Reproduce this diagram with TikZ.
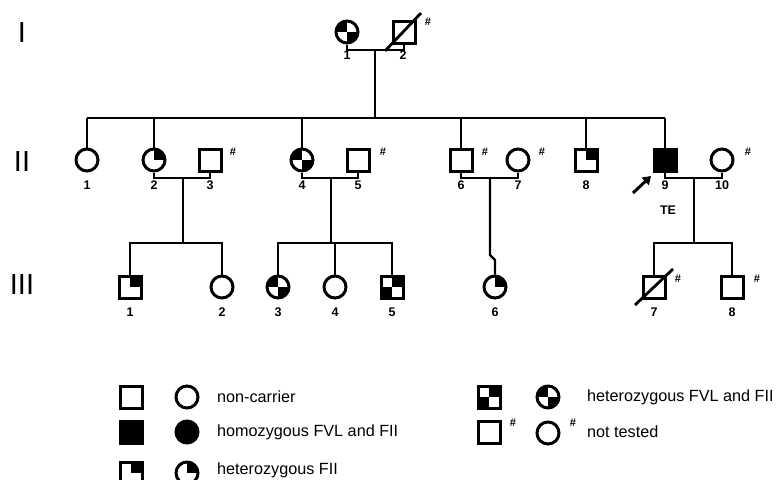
\documentclass[tikz,border=0pt]{standalone}
\usepackage{fontspec}
\setmainfont{Liberation Sans}
\usetikzlibrary{arrows.meta}
\begin{document}
\begin{tikzpicture}[x=1pt,y=-1pt,
 sym/.style={draw, line width=3pt, minimum size=22pt, inner sep=0pt},
 male/.style={sym, rectangle},
 female/.style={sym, circle},
 hetII/.style={path picture={\fill (path picture bounding box.center) rectangle (path picture bounding box.north east);}},
 hetboth/.style={path picture={\fill (path picture bounding box.center) rectangle (path picture bounding box.north east);
   \fill (path picture bounding box.center) rectangle (path picture bounding box.south west);}},
 hetbothc/.style={path picture={\fill (path picture bounding box.center) rectangle (path picture bounding box.north west);
   \fill (path picture bounding box.center) rectangle (path picture bounding box.south east);}},
 homo/.style={fill=black},
 num/.style={font=\bfseries\fontsize{12.5}{12.5}\selectfont, inner sep=0pt},
 hash/.style={font=\bfseries\fontsize{11}{11}\selectfont, inner sep=0pt},
 conn/.style={line width=2.3pt},
 slash/.style={line width=2.8pt},
 gen/.style={font=\fontsize{29}{29}\selectfont, inner sep=0pt},
 legtext/.style={font=\fontsize{16.2}{16.2}\selectfont, anchor=west, inner sep=0pt},
]
\useasboundingbox (0,0) rectangle (781,479);
% generation labels
\node[gen] (gI) at (22,33) {I};
\node[gen] (gII) at (22,162) {II};
\node[gen] (gIII) at (22,285) {III};
% generation I
\node[female,hetbothc] (I1) at (347,32) {};
\node[male] (I2) at (404,32) {};
\coordinate (I2a) at (385,51);
\coordinate (I2b) at (421,13);
\draw[slash] (I2a) -- (I2b);
\node[hash] (hI2) at (428,22) {\#};
\node[num] (nI1) at (347,55) {1};
\node[num] (nI2) at (403,55) {2};
\coordinate (mI1) at (347,50);
\coordinate (mI2) at (404,50);
\coordinate (dI) at (375,50);
\coordinate (sII) at (375,118);
\draw[conn] (I1.south) -- (mI1) -- (mI2) -- (I2.south);
\draw[conn] (dI) -- (sII);
% generation II
\node[female] (II1) at (87,160) {};
\node[female,hetII] (II2) at (154,160) {};
\node[male] (II3) at (210,160) {};
\node[female,hetbothc] (II4) at (302,160) {};
\node[male] (II5) at (358,160) {};
\node[male] (II6) at (461,160) {};
\node[female] (II7) at (518,160) {};
\node[male,hetII] (II8) at (586,160) {};
\node[male,homo] (II9) at (665,160) {};
\node[female] (II10) at (722,160) {};
\foreach \n/\x in {1/87,2/154,3/210,4/302,5/358,6/461,7/518,8/586,9/665,10/722}
  \node[num] (nII\n) at (\x,185) {\n};
\foreach \n/\x in {3/233,5/383,6/485,7/542,10/748}
  \node[hash] (hII\n) at (\x,152) {\#};
\node[num] (TE) at (668,210) {TE};
\coordinate (arrS) at (633,193);
\coordinate (arrE) at (651,176);
\draw[line width=3pt,-{Triangle[length=8pt,width=10pt]}] (arrS) -- (arrE);
% sibship II
\coordinate (sIIl) at (87,118);
\coordinate (sIIr) at (665,118);
\draw[conn] (sIIl) -- (sIIr);
\foreach \m in {II1,II2,II4,II6,II8,II9}
  \draw[conn] (\m.north) -- (\m.north |- sIIl);
% marriages II
\draw[conn] (II2.south) |- (210,178) -- (II3.south);
\draw[conn] (II4.south) |- (358,178) -- (II5.south);
\draw[conn] (II6.south) |- (518,178) -- (II7.south);
\draw[conn] (II9.south) |- (722,178) -- (II10.south);
% generation III
\node[male,hetII] (III1) at (130,287) {};
\node[female] (III2) at (222,287) {};
\node[female,hetbothc] (III3) at (278,287) {};
\node[female] (III4) at (335,287) {};
\node[male,hetboth] (III5) at (392,287) {};
\node[female,hetII] (III6) at (495,287) {};
\node[male] (III7) at (654,287) {};
\node[male] (III8) at (732,287) {};
\coordinate (III7a) at (635,305);
\coordinate (III7b) at (673,269);
\draw[slash] (III7a) -- (III7b);
\node[hash] (hIII7) at (678,279) {\#};
\node[hash] (hIII8) at (757,279) {\#};
\foreach \n/\x in {1/130,2/222,3/278,4/335,5/392,6/495,7/654,8/732}
  \node[num] (nIII\n) at (\x,312) {\n};
% descents to III
\coordinate (d1) at (183,178);
\coordinate (d2) at (331,178);
\coordinate (d3) at (490,178);
\coordinate (d4) at (694,178);
\draw[conn] (d1) -- (183,243);
\draw[conn] (III1.north) -- (130,243) -- (222,243) -- (III2.north);
\draw[conn] (d2) -- (331,243);
\draw[conn] (III3.north) -- (278,243) -- (392,243) -- (III5.north);
\draw[conn] (III4.north) -- (335,243);
\draw[conn] (d3) -- (490,255) -- (495,260) -- (III6.north);
\draw[conn] (d4) -- (694,243);
\draw[conn] (III7.north) -- (654,243) -- (732,243) -- (III8.north);
% legend
\node[male] (L1m) at (131,397) {};
\node[female] (L1f) at (187,397) {};
\node[legtext] (L1t) at (217,397) {non-carrier};
\node[male,homo] (L2m) at (131,432) {};
\node[female,homo] (L2f) at (187,432) {};
\node[legtext] (L2t) at (217,432) {homozygous FVL and FII};
\node[male,hetII] (L3m) at (131,473) {};
\node[female,hetII] (L3f) at (187,473) {};
\node[legtext] (L3t) at (217,470) {heterozygous FII};
\node[male,hetboth] (L4m) at (489,397) {};
\node[female,hetbothc] (L4f) at (548,397) {};
\node[legtext] (L4t) at (587,397) {heterozygous FVL and FII};
\node[male] (L5m) at (489,432) {};
\node[hash] (L5mh) at (513,423) {\#};
\node[female] (L5f) at (548,433) {};
\node[hash] (L5fh) at (573,423) {\#};
\node[legtext] (L5t) at (587,432) {not tested};
\end{tikzpicture}
\end{document}
